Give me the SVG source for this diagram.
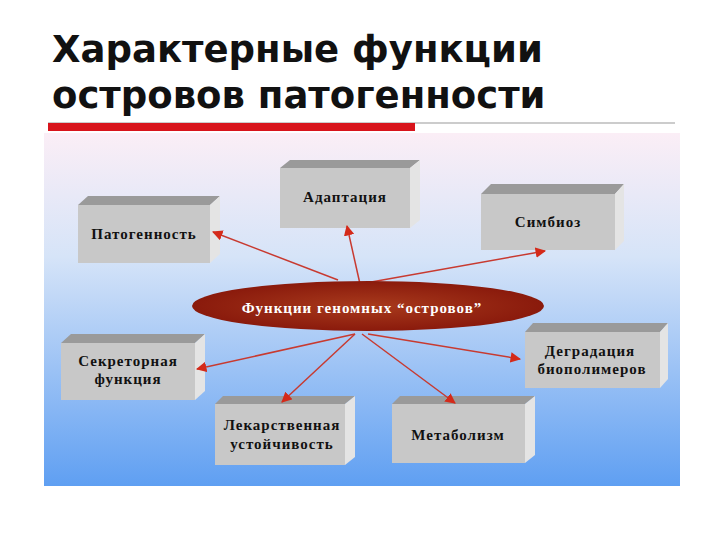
<svg xmlns="http://www.w3.org/2000/svg" width="720" height="540" viewBox="0 0 720 540">
<defs>
<linearGradient id="bg" x1="0" y1="0" x2="0" y2="1"><stop offset="0" stop-color="#fbeef6"/><stop offset="0.35" stop-color="#d6e4f8"/><stop offset="1" stop-color="#5f9ff2"/></linearGradient>
<radialGradient id="el" cx="0.5" cy="0.5" r="0.5"><stop offset="0" stop-color="#a83a1c"/><stop offset="1" stop-color="#8a1a0c"/></radialGradient>
<marker id="ah" viewBox="0 0 10 10" refX="9" refY="5" markerWidth="7" markerHeight="7" orient="auto"><path d="M0,0L10,5L0,10z" fill="#d42a1a"/></marker>
</defs>
<style>
.title{font-family:"DejaVu Sans",sans-serif;font-weight:bold;font-size:37px;fill:#111}
.front{fill:#c8c8c8}.top{fill:#9a9a9a}.side{fill:#e4e4e4}
.lbl{font-family:"Liberation Serif",serif;font-weight:bold;font-size:15px;fill:#111;text-anchor:middle;letter-spacing:1px}
.c{stroke:#c83a30;stroke-width:1.5;fill:none;marker-end:url(#ah)}
</style>
<rect width="720" height="540" fill="#fff"/>
<text class="title" x="52" y="62">Характерные функции</text>
<text class="title" x="52" y="108">островов патогенности</text>
<line x1="48" y1="123" x2="675" y2="123" stroke="#999" stroke-width="1"/>
<rect x="48" y="123" width="367" height="8" fill="#d8141c"/>
<rect x="44" y="133" width="636" height="353" fill="url(#bg)"/>
<g id="box-patogennost">
<polygon class="top" points="78,205 88,196 220,196 210,205"/><polygon class="side" points="210,205 220,196 220,254 210,263"/><rect class="front" x="78" y="205" width="132" height="58"/>
<text class="lbl" x="144" y="239">Патогенность</text></g>
<g id="box-adaptaciya">
<polygon class="top" points="280,168 290,160 420,160 410,168"/><polygon class="side" points="410,168 420,160 420,220 410,228"/><rect class="front" x="280" y="168" width="130" height="60"/>
<text class="lbl" x="345" y="202">Адаптация</text></g>
<g id="box-simbioz">
<polygon class="top" points="481,194 491,184 624,184 615,194"/><polygon class="side" points="615,194 624,184 624,241 615,250"/><rect class="front" x="481" y="194" width="134" height="56"/>
<text class="lbl" x="548" y="227">Симбиоз</text></g>
<g id="box-sekretornaya">
<polygon class="top" points="61,343 71,334 205,334 195,343"/><polygon class="side" points="195,343 205,334 205,391 195,400"/><rect class="front" x="61" y="343" width="134" height="57"/>
<text class="lbl" x="128" y="366">Секреторная</text><text class="lbl" x="128" y="384">функция</text></g>
<g id="box-degradaciya">
<polygon class="top" points="525,332 533,323 668,323 660,332"/><polygon class="side" points="660,332 668,323 668,379 660,388"/><rect class="front" x="525" y="332" width="135" height="56"/>
<text class="lbl" x="590" y="356">Деградация</text><text class="lbl" x="592" y="374">биополимеров</text></g>
<g id="box-lekarstvennaya">
<polygon class="top" points="215,404 223,396 355,396 345,404"/><polygon class="side" points="345,404 355,396 355,457 345,465"/><rect class="front" x="215" y="404" width="130" height="61"/>
<text class="lbl" x="282" y="430">Лекарственная</text><text class="lbl" x="282" y="449">устойчивость</text></g>
<g id="box-metabolizm">
<polygon class="top" points="392,404 400,396 535,396 525,404"/><polygon class="side" points="525,404 535,396 535,455 525,463"/><rect class="front" x="392" y="404" width="133" height="59"/>
<text class="lbl" x="458" y="440">Метаболизм</text></g>
<g id="connectors">
<line class="c" x1="338" y1="280" x2="213" y2="232"/>
<line class="c" x1="360" y1="284" x2="347" y2="226"/>
<line class="c" x1="360" y1="284" x2="545" y2="251"/>
<line class="c" x1="355" y1="334" x2="197" y2="369"/>
<line class="c" x1="355" y1="334" x2="282" y2="402"/>
<line class="c" x1="362" y1="334" x2="455" y2="403"/>
<line class="c" x1="368" y1="334" x2="520" y2="359"/>
</g>
<g id="center">
<ellipse cx="368" cy="306" rx="176" ry="25" fill="url(#el)"/>
<text x="362" y="313" font-family="Liberation Serif,serif" font-weight="bold" font-size="15" fill="#fff" text-anchor="middle" letter-spacing="1">Функции геномных “островов”</text>
</g>
</svg>
